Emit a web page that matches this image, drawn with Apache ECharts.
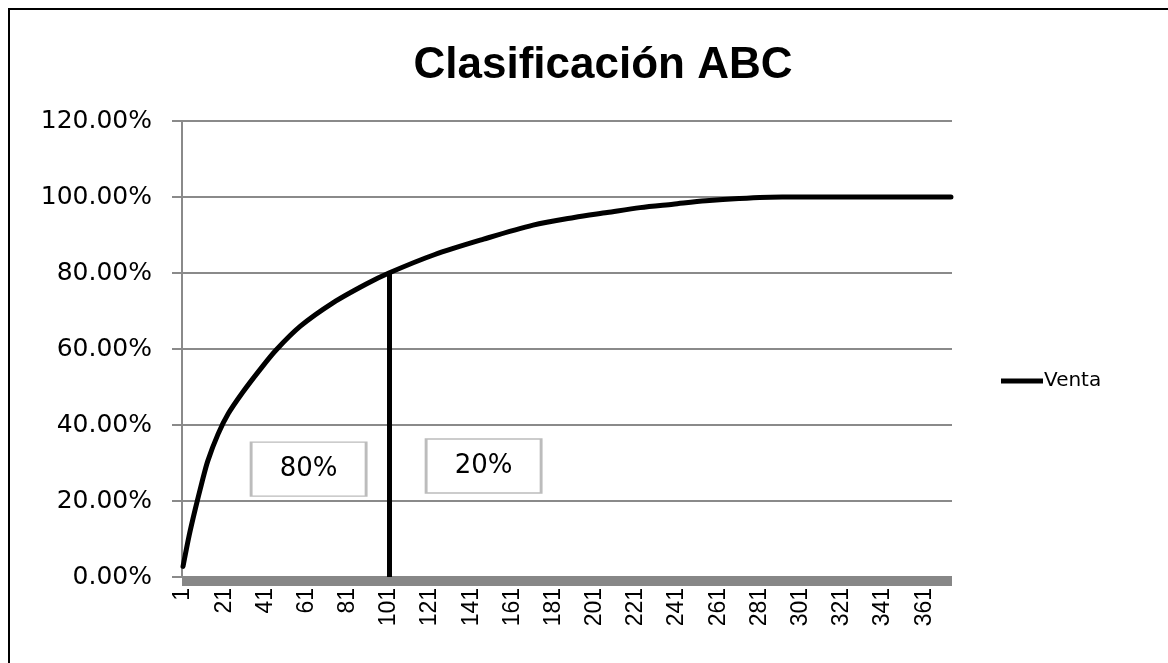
<!DOCTYPE html>
<html>
<head>
<meta charset="utf-8">
<title>Clasificación ABC</title>
<script src="https://cdn.jsdelivr.net/npm/echarts@6/dist/echarts.min.js"></script>
<style>
  html, body { margin: 0; padding: 0; background: #fff; }
  #chart { width: 1168px; height: 663px; }
</style>
</head>
<body>
<div id="chart"></div>
<script>
// Number of items (SKUs) ranked by sales
const ITEM_COUNT = 374;
const categories = Array.from({ length: ITEM_COUNT }, (_, i) => String(i + 1));

// Cumulative share of sales (%) at selected item ranks
const itemRanks = ['1', '4', '7', '10', '13', '18', '23', '30', '38', '46', '58', '74', '90', '101',
                   '123', '147', '171', '191', '207', '223', '239', '255', '271', '292', '374'];
const cumulativePct = [2.8, 11.0, 18.0, 24.5, 30.5, 37.6, 43.0, 48.6, 54.3, 59.6, 66.0, 72.2, 77.1, 80.0,
                       84.8, 88.9, 92.6, 94.6, 95.9, 97.2, 98.1, 99.0, 99.6, 100.0, 100.0];

// Cut-off item where the cumulative share reaches 80%
const cutoffRank = '101';
const cutoffPct = 80;

// Zone labels and their anchor points (item rank, %)
const zoneLabels = ['80%', '20%'];
const zoneAnchors = [['62', 28.4], ['147', 29.2]];

const yTicks = { min: 0, max: 120, interval: 20 };

const chart = echarts.init(document.getElementById('chart'));

chart.setOption({
  animation: false,
  backgroundColor: '#fff',
  graphic: [{
    type: 'rect',
    shape: { x: 9, y: 9, width: 1200, height: 700 },
    style: { fill: 'none', stroke: '#000', lineWidth: 2 },
    silent: true
  }],
  title: {
    text: 'Clasificación ABC',
    left: 598,
    top: 39,
    textAlign: 'center',
    textStyle: { fontFamily: 'Liberation Sans', fontWeight: 'bold', fontSize: 44, color: '#000' }
  },
  legend: {
    data: ['Venta'],
    left: 996,
    top: 366,
    icon: 'rect',
    itemWidth: 42,
    itemHeight: 5,
    itemGap: 0,
    itemStyle: { color: '#000' },
    textStyle: { fontFamily: 'DejaVu Sans', fontSize: 20, color: '#000', padding: [0, 0, 0, -4] }
  },
  grid: { left: 182, top: 121, right: 216, bottom: 86, containLabel: false },
  xAxis: {
    type: 'category',
    data: categories,
    boundaryGap: true,
    offset: 4,
    axisLine: { show: true, onZero: false, lineStyle: { color: '#878787', width: 10, cap: 'butt' } },
    axisTick: { show: false },
    axisLabel: {
      interval: 19,
      rotate: 90,
      margin: 7,
      fontFamily: 'Liberation Sans',
      fontSize: 23,
      color: '#000'
    },
    splitLine: { show: false }
  },
  yAxis: {
    type: 'value',
    min: yTicks.min,
    max: yTicks.max,
    interval: yTicks.interval,
    axisLine: { show: true, lineStyle: { color: '#8a8a8a', width: 2 } },
    axisTick: { show: true, inside: false, length: 10, lineStyle: { color: '#8a8a8a', width: 2 } },
    axisLabel: {
      margin: 30,
      fontFamily: 'DejaVu Sans',
      fontSize: 25,
      color: '#000',
      formatter: v => v.toFixed(2) + '%'
    },
    splitLine: { show: true, lineStyle: { color: '#8a8a8a', width: 2 } }
  },
  series: [{
    name: 'Venta',
    type: 'line',
    data: itemRanks.map((r, i) => [r, cumulativePct[i]]),
    smooth: 0.3,
    symbol: 'none',
    lineStyle: { color: '#000', width: 5, cap: 'round', join: 'round' },
    itemStyle: { color: '#000' },
    z: 5,
    markLine: {
      silent: true,
      symbol: 'none',
      label: { show: false },
      lineStyle: { color: '#000', width: 5, type: 'solid' },
      data: [[{ coord: [cutoffRank, 0] }, { coord: [cutoffRank, cutoffPct] }]]
    },
    markPoint: {
      silent: true,
      symbol: 'rect',
      symbolSize: [115, 54],
      itemStyle: { color: '#fff', borderColor: '#bcbcbc', borderWidth: 2 },
      label: {
        show: true,
        position: 'inside',
        fontFamily: 'DejaVu Sans',
        fontSize: 26,
        color: '#000',
        formatter: p => p.name
      },
      data: zoneLabels.map((t, i) => ({ name: t, coord: zoneAnchors[i] }))
    }
  }]
});
</script>
</body>
</html>
